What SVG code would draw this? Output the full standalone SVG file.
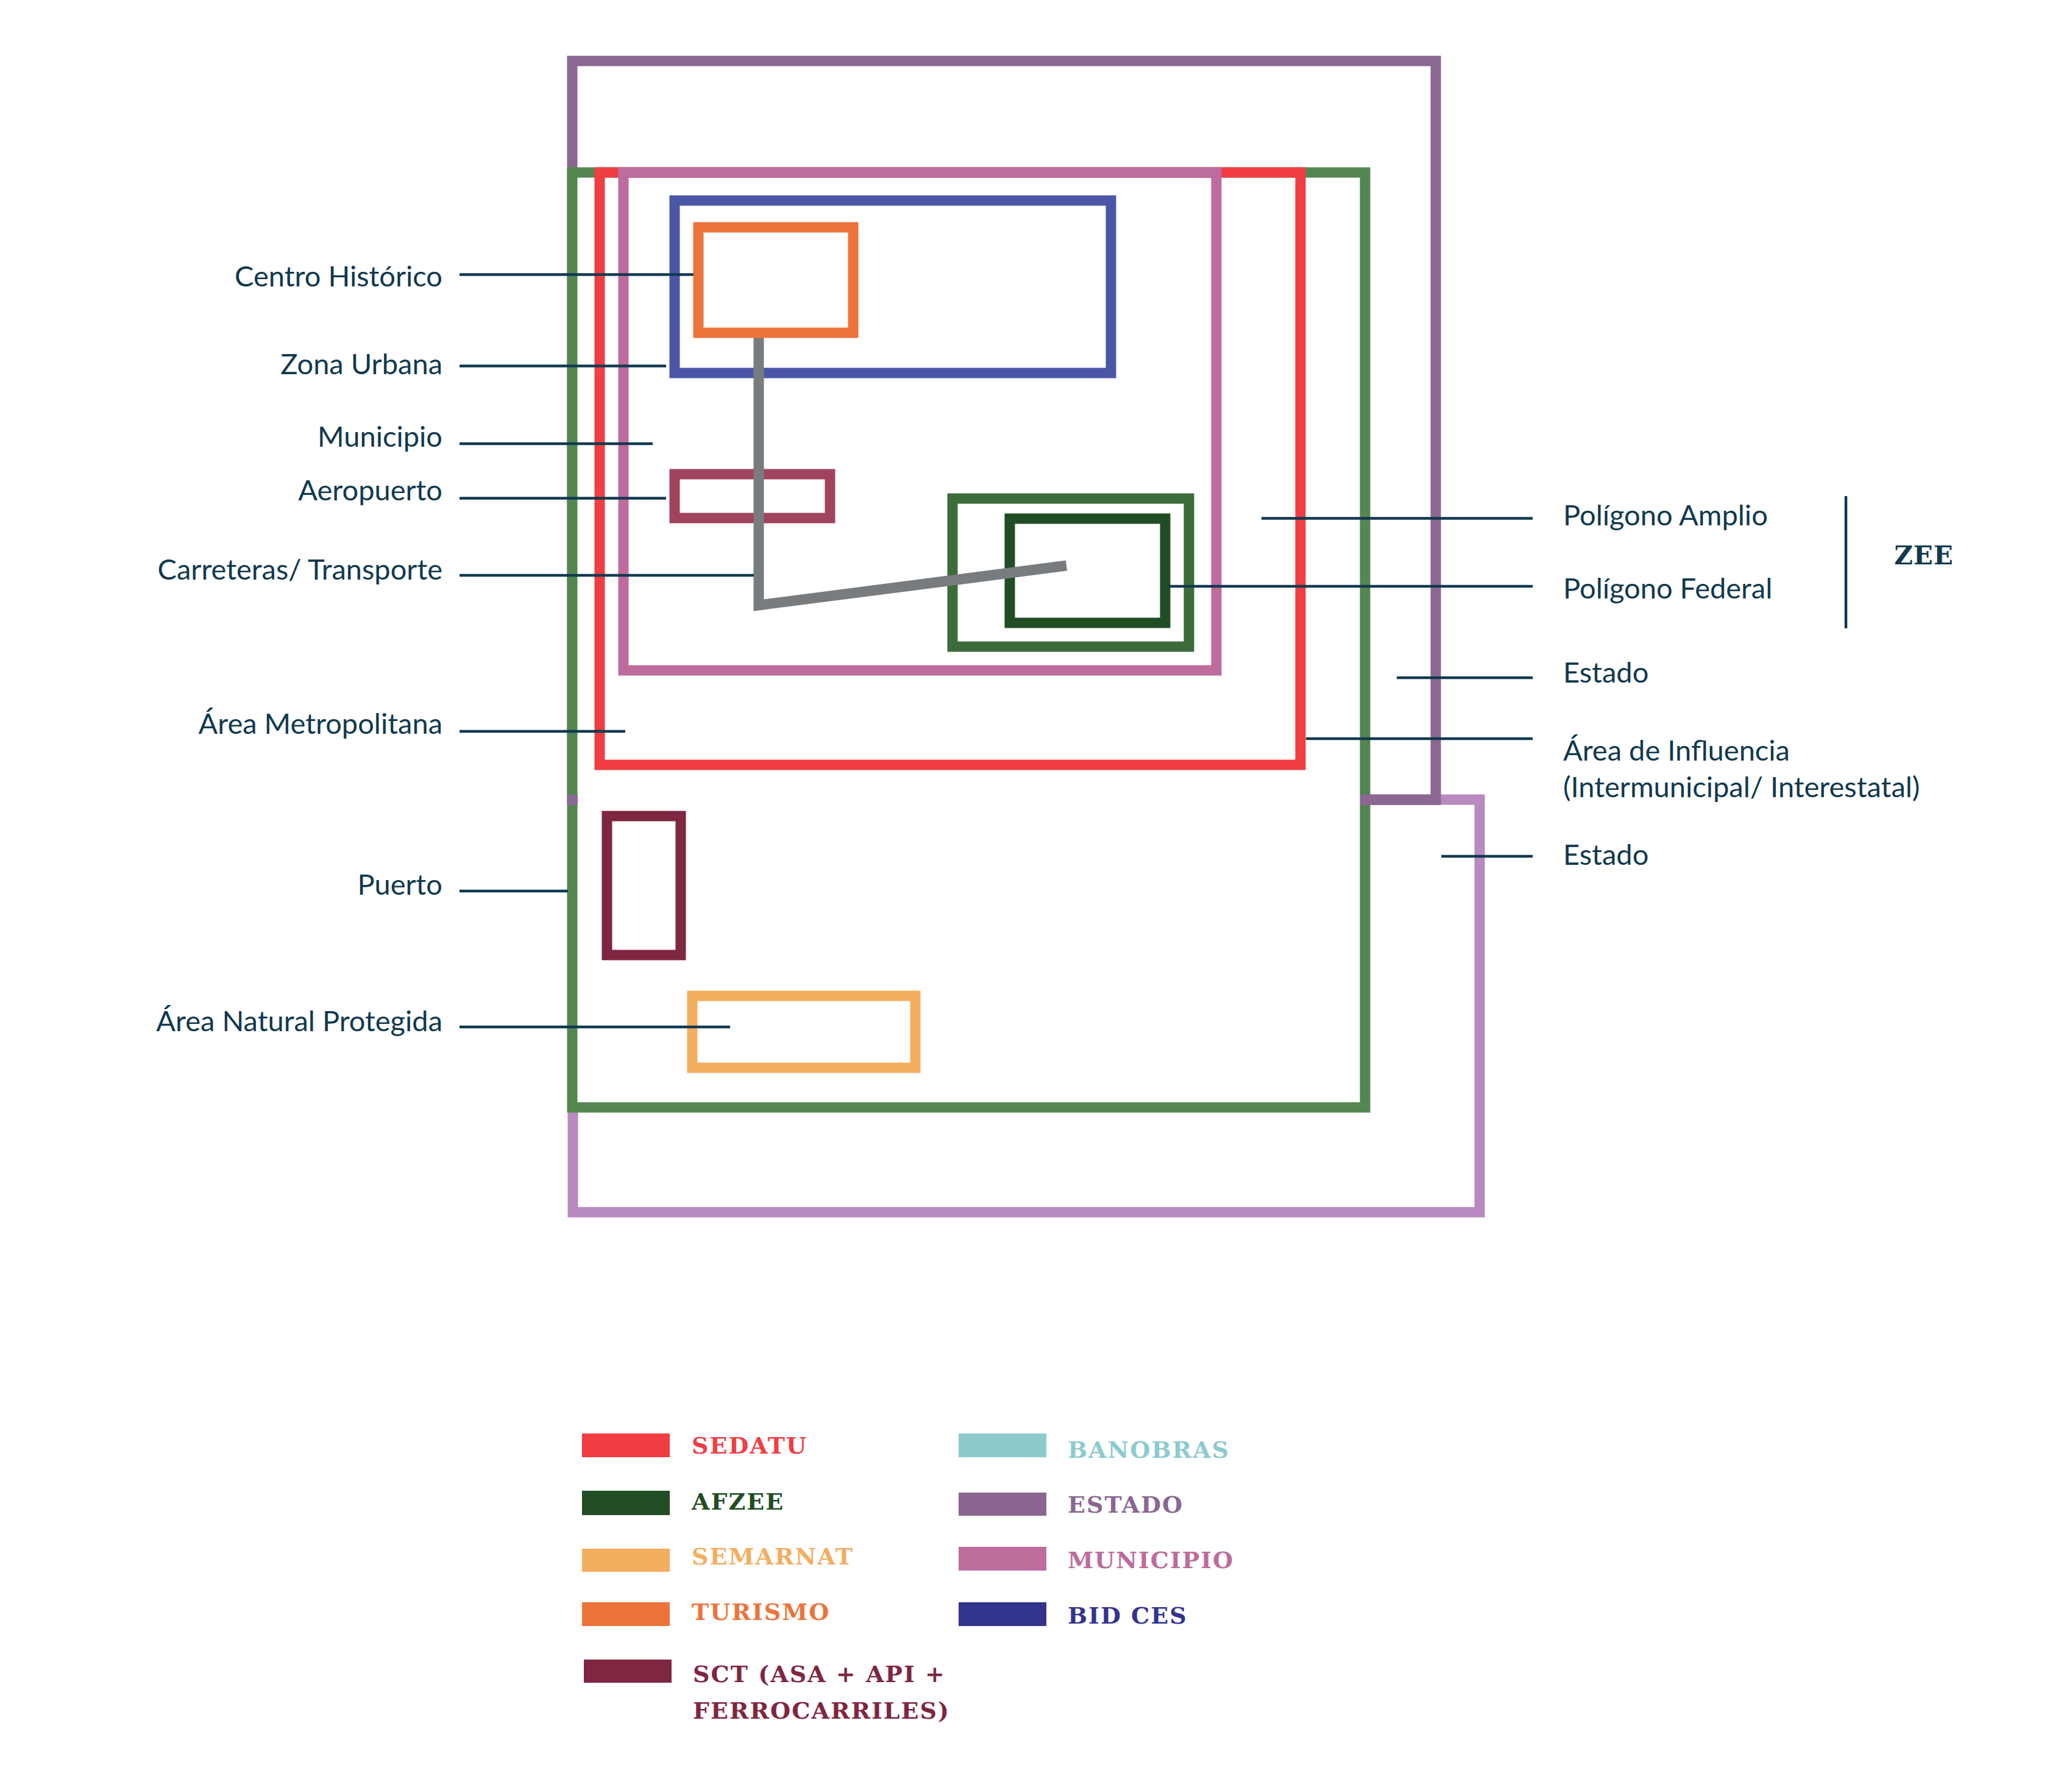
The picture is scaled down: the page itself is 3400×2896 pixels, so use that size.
<svg xmlns="http://www.w3.org/2000/svg" width="3400" height="2896" viewBox="0 0 3400 2896">
<style>
.box{fill:none;stroke-width:17;stroke-linejoin:miter}
.lbl{font-family:Lato,"Liberation Sans",sans-serif;font-size:47px;fill:#10394e}
.lead{stroke:#10394e;stroke-width:4.5;fill:none}
.leg{font-family:"DejaVu Serif","Liberation Serif",serif;font-weight:bold;font-size:38px;letter-spacing:2px}
</style>
<rect width="3400" height="2896" fill="#ffffff"/>
<g id="estado-2"><rect class="box" x="940" y="1312" width="1488" height="677" stroke="#B88AC0"/></g>
<g id="estado-1"><rect class="box" x="939" y="100" width="1417" height="1212" stroke="#8A6892"/></g>
<g id="area-influencia"><rect class="box" x="939" y="283" width="1301" height="1534" stroke="#548650" style="fill:#ffffff"/></g>
<g id="estado-1-overlap">
<rect x="931" y="1304" width="17" height="17" fill="#8A6892"/>
<rect x="2232" y="1304" width="132" height="17" fill="#8A6892"/>
</g>
<g id="area-metropolitana"><rect class="box" x="984" y="283" width="1150" height="972" stroke="#F03E43"/></g>
<g id="municipio"><rect class="box" x="1023" y="283" width="973" height="817" stroke="#BE6C9D"/></g>
<g id="zona-urbana"><rect class="box" x="1107" y="329" width="716" height="283" stroke="#4B57A6"/></g>
<g id="aeropuerto"><rect class="box" x="1107" y="778" width="255" height="72" stroke="#A0445E" stroke-width="19"/></g>
<g id="poligono-amplio"><rect class="box" x="1563" y="818" width="388" height="243" stroke="#3C6B3C"/></g>
<g id="poligono-federal"><rect class="box" x="1657" y="851" width="255" height="171" stroke="#214D25" stroke-width="19"/></g>
<g id="puerto"><rect class="box" x="996" y="1339" width="121" height="228" stroke="#7F2640"/></g>
<g id="area-natural-protegida"><rect class="box" x="1136" y="1634" width="366" height="118" stroke="#F4AE5F" stroke-width="15"/></g>
<g id="carreteras"><polyline points="1245,546 1245,993 1750,928" fill="none" stroke="#797C7F" stroke-width="17" stroke-linejoin="miter"/></g>
<g id="centro-historico"><rect class="box" x="1146" y="373" width="254" height="173" stroke="#EC743B"/></g>

<g id="connectors">
<line class="lead" x1="754" y1="450.5" x2="1138" y2="450.5"/>
<line class="lead" x1="754" y1="600.5" x2="1093" y2="600.5"/>
<line class="lead" x1="754" y1="728" x2="1071" y2="728"/>
<line class="lead" x1="754" y1="817.5" x2="1093" y2="817.5"/>
<line class="lead" x1="754" y1="944" x2="1237" y2="944"/>
<line class="lead" x1="754" y1="1200" x2="1026" y2="1200"/>
<line class="lead" x1="754" y1="1462" x2="932" y2="1462"/>
<line class="lead" x1="754" y1="1685" x2="1198" y2="1685"/>
<line class="lead" x1="2070" y1="850.5" x2="2515" y2="850.5"/>
<line class="lead" x1="1916" y1="962" x2="2515" y2="962"/>
<line class="lead" x1="2292" y1="1112" x2="2515" y2="1112"/>
<line class="lead" x1="2143" y1="1212" x2="2515" y2="1212"/>
<line class="lead" x1="2365" y1="1405" x2="2515" y2="1405"/>
<line class="lead" x1="3029" y1="814" x2="3029" y2="1031"/>
</g>

<g id="labels-left" text-anchor="end">
<text class="lbl" x="726" y="470">Centro Histórico</text>
<text class="lbl" x="726" y="614">Zona Urbana</text>
<text class="lbl" x="726" y="733">Municipio</text>
<text class="lbl" x="726" y="821">Aeropuerto</text>
<text class="lbl" x="726" y="951">Carreteras/ Transporte</text>
<text class="lbl" x="726" y="1204">Área Metropolitana</text>
<text class="lbl" x="726" y="1468">Puerto</text>
<text class="lbl" x="726" y="1692">Área Natural Protegida</text>
</g>
<g id="labels-right">
<text class="lbl" x="2565" y="862">Polígono Amplio</text>
<text class="lbl" x="2565" y="982">Polígono Federal</text>
<text class="lbl" x="2565" y="1120">Estado</text>
<text class="lbl" x="2565" y="1248">Área de Influencia</text>
<text class="lbl" x="2565" y="1308">(Intermunicipal/ Interestatal)</text>
<text class="lbl" x="2565" y="1419">Estado</text>
<text x="3157" y="926" text-anchor="middle" style="font-family:'DejaVu Serif','Liberation Serif',serif;font-weight:bold;font-size:42px;fill:#10394e;letter-spacing:1px">ZEE</text>
</g>

<g id="legend">
<rect x="955" y="2352" width="144" height="39" fill="#F03E43"/>
<text class="leg" x="1135" y="2385" fill="#F03E43">SEDATU</text>
<rect x="955" y="2446" width="144" height="40" fill="#214D25"/>
<text class="leg" x="1135" y="2477" fill="#214D25">AFZEE</text>
<rect x="955" y="2541" width="144" height="38" fill="#F4AE5F"/>
<text class="leg" x="1135" y="2567" fill="#F4AE5F">SEMARNAT</text>
<rect x="955" y="2629" width="144" height="39" fill="#EC743B"/>
<text class="leg" x="1135" y="2658" fill="#EC743B">TURISMO</text>
<rect x="958" y="2723" width="144" height="38" fill="#7F2640"/>
<text class="leg" x="1137" y="2760" fill="#7F2640">SCT (ASA + API +</text>
<text class="leg" x="1137" y="2820" fill="#7F2640">FERROCARRILES)</text>
<rect x="1573" y="2352" width="144" height="39" fill="#8DCACE"/>
<text class="leg" x="1752" y="2392" fill="#8DCACE">BANOBRAS</text>
<rect x="1573" y="2449" width="144" height="38" fill="#8A6690"/>
<text class="leg" x="1752" y="2482" fill="#8A6690">ESTADO</text>
<rect x="1573" y="2538" width="144" height="39" fill="#BD6C9C"/>
<text class="leg" x="1752" y="2573" fill="#BD6C9C">MUNICIPIO</text>
<rect x="1573" y="2629" width="144" height="39" fill="#33348E"/>
<text class="leg" x="1752" y="2664" fill="#33348E">BID CES</text>
</g>
</svg>
